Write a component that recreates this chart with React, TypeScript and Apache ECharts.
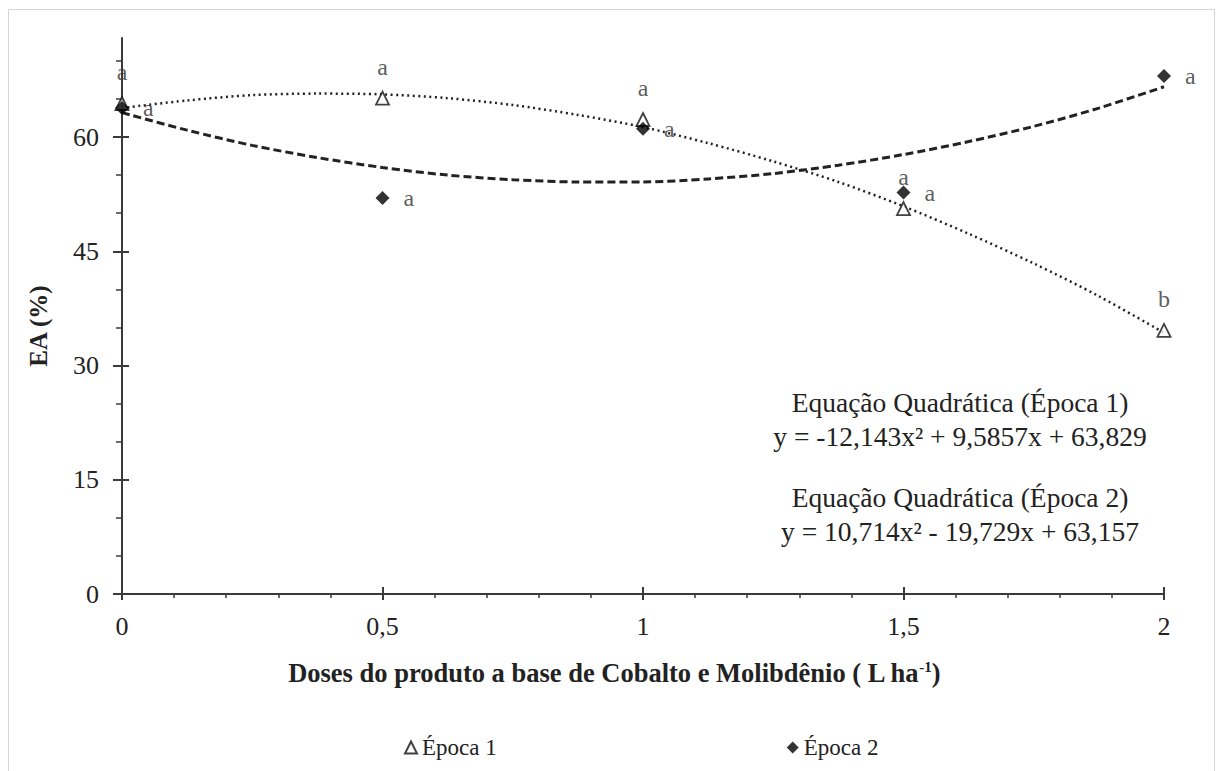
import React, { useEffect, useRef } from 'react';
import * as echarts from 'echarts';

const doses = [0, 0.5, 1, 1.5, 2];
const epoca1 = [64.4, 65.1, 62.3, 50.6, 34.6];
const epoca2 = [63.8, 52.0, 61.1, 52.7, 68.0];
const letters1 = ['a', 'a', 'a', 'a', 'b'];
const letters2 = ['a', 'a', 'a', 'a', 'a'];
// trend curves
const trendX = [0, 0.125, 0.25, 0.375, 0.5, 0.625, 0.75, 0.875, 1, 1.125, 1.25, 1.375, 1.5, 1.625, 1.75, 1.875, 2];
const trend1 = [63.8, 64.8, 65.5, 65.7, 65.6, 65.1, 64.2, 62.9, 61.3, 59.2, 56.8, 54.1, 50.9, 47.3, 43.4, 39.1, 34.3];
const trend2 = [63.2, 60.9, 58.9, 57.3, 56.0, 55.0, 54.4, 54.1, 54.1, 54.5, 55.2, 56.3, 57.7, 59.4, 61.4, 63.8, 66.6];
const yTicks = [0, 15, 30, 45, 60];
const yMinorTicks = [5, 10, 20, 25, 35, 40, 50, 55, 65, 70];
const equations = [
  'Equação Quadrática (Época 1)',
  'y = -12,143x² + 9,5857x + 63,829',
  'Equação Quadrática (Época 2)',
  'y = 10,714x² - 19,729x + 63,157',
];

const SERIF = '"Liberation Serif", "Times New Roman", serif';
const AX = '#3a3a3a';
const TXT = '#222';

export default function App() {
  const ref = useRef<HTMLDivElement>(null);
  useEffect(() => {
    document.body.style.margin = '0';
    const chart = echarts.init(ref.current!, null, { renderer: 'svg' });
    const baseY = {
      type: 'value',
      min: 0,
      max: 73,
      position: 'left',
      splitLine: { show: false },
    };
    const eqY = [402, 436, 497, 531];
    chart.setOption({
      animation: false,
      backgroundColor: '#fff',
      grid: { left: 122, right: 53, top: 38, bottom: 177, outerBoundsMode: 'none' },
      legend: {
        data: ['Época 1', 'Época 2'],
        left: 399,
        top: 731,
        itemWidth: 12,
        itemHeight: 12,
        itemGap: 290,
        textStyle: { fontFamily: SERIF, fontSize: 23, color: TXT },
      },
      xAxis: [
        {
          type: 'value',
          min: 0,
          max: 2,
          interval: 0.5,
          position: 'bottom',
          axisLine: { show: true, lineStyle: { color: AX, width: 2 } },
          axisTick: { show: true, length: 6, lineStyle: { color: AX, width: 2 } },
          minorTick: { show: true, splitNumber: 5, length: 4, lineStyle: { color: AX, width: 1.5 } },
          splitLine: { show: false },
          axisLabel: {
            formatter: (v: number) => String(v).replace('.', ','),
            fontFamily: SERIF,
            fontSize: 26,
            color: TXT,
            margin: 19,
          },
        },
        {
          type: 'value',
          min: 0,
          max: 2,
          interval: 0.5,
          position: 'bottom',
          axisLine: { show: false },
          axisTick: { show: true, inside: true, length: 7, lineStyle: { color: AX, width: 2 } },
          axisLabel: { show: false },
          splitLine: { show: false },
        },
      ],
      yAxis: [
        {
          ...baseY,
          axisLine: { show: true, lineStyle: { color: AX, width: 2 } },
          axisTick: { show: true, length: 9, customValues: yTicks, lineStyle: { color: AX, width: 2 } },
          axisLabel: {
            customValues: yTicks,
            fontFamily: SERIF,
            fontSize: 26,
            color: TXT,
            margin: 23,
          },
        },
        {
          ...baseY,
          axisLine: { show: false },
          axisTick: { show: true, inside: true, length: 7, customValues: yTicks, lineStyle: { color: AX, width: 2 } },
          axisLabel: { show: false },
        },
        {
          ...baseY,
          axisLine: { show: false },
          axisTick: { show: true, length: 6, customValues: yMinorTicks, lineStyle: { color: AX, width: 1.5 } },
          axisLabel: { show: false },
        },
      ],
      series: [
        {
          name: 'Tendência Época 1',
          type: 'line',
          data: trendX.map((x, i) => [x, trend1[i]]),
          smooth: 0.3,
          symbol: 'none',
          lineStyle: { color: '#222', width: 2.5, type: [2, 3.5] },
          z: 1,
        },
        {
          name: 'Tendência Época 2',
          type: 'line',
          data: trendX.map((x, i) => [x, trend2[i]]),
          smooth: 0.3,
          symbol: 'none',
          lineStyle: { color: '#222', width: 3, type: [8, 4] },
          z: 1,
        },
        {
          name: 'Época 1',
          type: 'scatter',
          data: doses.map((x, i) => [x, epoca1[i]]),
          symbol: 'triangle',
          symbolSize: 13,
          itemStyle: { color: '#fff', borderColor: '#111', borderWidth: 1.8 },
          label: {
            show: true,
            position: 'top',
            distance: 12,
            formatter: (p: any) => letters1[p.dataIndex],
            fontFamily: SERIF,
            fontSize: 24,
            color: '#333',
          },
          z: 3,
        },
        {
          name: 'Época 2',
          type: 'scatter',
          data: doses.map((x, i) => [x, epoca2[i]]),
          symbol: 'diamond',
          symbolSize: 14,
          itemStyle: { color: '#000' },
          label: {
            show: true,
            position: 'right',
            distance: 14,
            formatter: (p: any) => letters2[p.dataIndex],
            fontFamily: SERIF,
            fontSize: 24,
            color: '#333',
          },
          z: 4,
        },
      ],
      graphic: [
        {
          type: 'rect',
          shape: { x: 8.5, y: 9.5, width: 1206, height: 770 },
          style: { fill: 'none', stroke: '#d6d6d6', lineWidth: 1 },
          silent: true,
        },
        {
          type: 'text',
          x: 38,
          y: 326,
          rotation: Math.PI / 2,
          style: {
            text: 'EA (%)',
            fontFamily: SERIF,
            fontWeight: 'bold',
            fontSize: 25,
            fill: TXT,
            align: 'center',
            verticalAlign: 'middle',
          },
        },
        {
          type: 'text',
          x: 614,
          y: 673,
          style: {
            text: '{b|Doses do produto a base de Cobalto e Molibdênio ( L ha}{s|-1}{b|)}',
            align: 'center',
            verticalAlign: 'middle',
            rich: {
              b: { fontFamily: SERIF, fontWeight: 'bold', fontSize: 26.5, fill: TXT, color: TXT },
              s: { fontFamily: SERIF, fontWeight: 'bold', fontSize: 15, fill: TXT, color: TXT, verticalAlign: 'top' },
            },
          },
        },
        ...equations.map((t, i) => ({
          type: 'text',
          x: 960,
          y: eqY[i],
          style: {
            text: t,
            fontFamily: SERIF,
            fontSize: 27.5,
            fill: TXT,
            align: 'center',
            verticalAlign: 'middle',
          },
        })),
      ],
    });
    return () => chart.dispose();
  }, []);
  return <div ref={ref} style={{ width: 1217, height: 771 }} />;
}
